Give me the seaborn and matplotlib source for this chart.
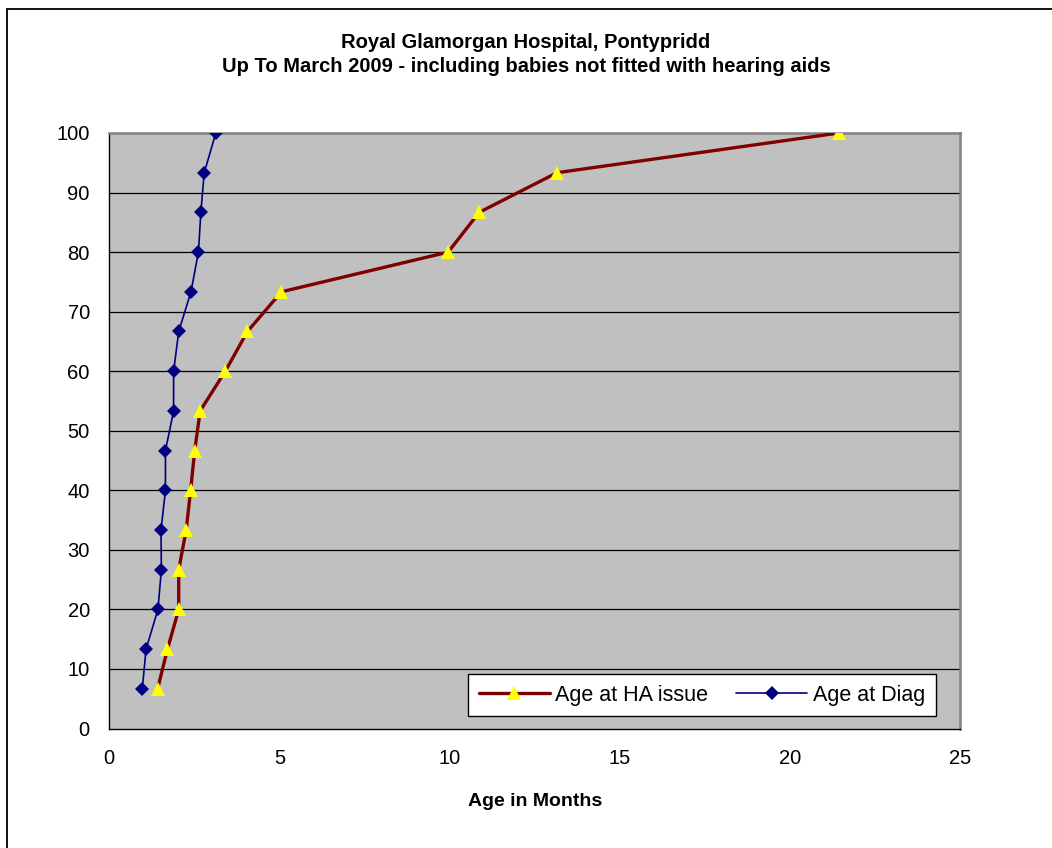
import matplotlib
matplotlib.use("Agg")
import matplotlib.pyplot as plt
from matplotlib.lines import Line2D
import seaborn as sns
import pandas as pd

# Cumulative percentage of babies (y) against age in months (x)
percent_cum = [6.67, 13.33, 20.0, 26.67, 33.33, 40.0, 46.67, 53.33,
               60.0, 66.67, 73.33, 80.0, 86.67, 93.33, 100.0]
age_ha_issue = [1.42, 1.71, 2.04, 2.04, 2.26, 2.39, 2.51, 2.67,
                3.41, 4.06, 5.06, 9.96, 10.87, 13.16, 21.45]
age_diag = [0.97, 1.08, 1.43, 1.53, 1.52, 1.65, 1.65, 1.89,
            1.89, 2.04, 2.40, 2.62, 2.69, 2.79, 3.13]
series_names = ["Age at HA issue", "Age at Diag"]

x_ticks = [0, 5, 10, 15, 20, 25]
y_ticks = [0, 10, 20, 30, 40, 50, 60, 70, 80, 90, 100]

sns.set_theme(style="white")
plt.rcParams["font.family"] = ["Liberation Sans", "DejaVu Sans"]
plt.rcParams["text.color"] = "black"
plt.rcParams["axes.labelcolor"] = "black"

fig = plt.figure(figsize=(10.52, 8.48), dpi=100)
ax = fig.add_axes([0.1039, 0.1409, 0.8086, 0.7023])
ax.set_facecolor("#C0C0C0")

ha_df = pd.DataFrame({"age": age_ha_issue, "pct": percent_cum})
dg_df = pd.DataFrame({"age": age_diag, "pct": percent_cum})

sns.lineplot(data=ha_df, x="age", y="pct", ax=ax, sort=False, estimator=None,
             color="#800000", linewidth=2.4, marker="^", markersize=10.5,
             markerfacecolor="#FFFF00", markeredgecolor="#FFFF00",
             markeredgewidth=0, zorder=3)
sns.lineplot(data=dg_df, x="age", y="pct", ax=ax, sort=False, estimator=None,
             color="#000080", linewidth=1.2, marker="D", markersize=7.5,
             markerfacecolor="#000080", markeredgecolor="#000080",
             markeredgewidth=0, zorder=4)

ax.set_xlim(0, 25)
ax.set_ylim(0, 100)
ax.set_xticks(x_ticks)
ax.set_yticks(y_ticks)
ax.set_xticklabels([str(t) for t in x_ticks])
ax.set_yticklabels([str(t) for t in y_ticks])

# horizontal gridlines
for yv in y_ticks[1:-1]:
    ax.axhline(yv, color="black", linewidth=0.9, zorder=1)
ax.grid(False)

for side in ["left", "bottom"]:
    ax.spines[side].set_color("black")
    ax.spines[side].set_linewidth(1.0)
for side in ["top", "right"]:
    ax.spines[side].set_color("#808080")
    ax.spines[side].set_linewidth(1.8)
    ax.spines[side].set_visible(True)

ax.tick_params(axis="both", which="major", direction="out", length=6,
               width=1, color="black", labelsize=14.5, labelcolor="black")
ax.tick_params(axis="y", pad=8)
ax.tick_params(axis="x", pad=9)

ax.set_xlabel("Age in Months", fontsize=14, fontweight="bold", labelpad=18,
              color="black")
ax.set_ylabel("")

handles = [
    Line2D([], [], color="#800000", linewidth=2.4, marker="^", markersize=10.5,
           markerfacecolor="#FFFF00", markeredgewidth=0),
    Line2D([], [], color="#000080", linewidth=1.2, marker="D", markersize=7.5,
           markerfacecolor="#000080", markeredgewidth=0),
]
leg = ax.legend(handles, series_names, ncol=2, loc="lower right",
                bbox_to_anchor=(0.9715, 0.0205), fontsize=15.5,
                frameon=True, fancybox=False, framealpha=1,
                edgecolor="black", facecolor="white",
                handlelength=3.3, handletextpad=0.25, columnspacing=1.3,
                borderpad=0.5, borderaxespad=0)
leg.get_frame().set_linewidth(1.0)
for t in leg.get_texts():
    t.set_color("black")

fig.text(0.5, 1 - 43 / 848, "Royal Glamorgan Hospital, Pontypridd", ha="center",
         va="center", fontsize=14.5, fontweight="bold", color="black")
fig.text(0.5, 1 - 67 / 848,
         "Up To March 2009 - including babies not fitted with hearing aids",
         ha="center", va="center", fontsize=14.5, fontweight="bold", color="black")

# outer chart frame (top and left edges)
fig.add_artist(Line2D([7 / 1052, 1.0], [1 - 9 / 848, 1 - 9 / 848],
                      transform=fig.transFigure, color="black", linewidth=1.3))
fig.add_artist(Line2D([7 / 1052, 7 / 1052], [0.0, 1 - 9 / 848],
                      transform=fig.transFigure, color="black", linewidth=1.3))

fig.savefig("out.png", dpi=100, facecolor="white")
